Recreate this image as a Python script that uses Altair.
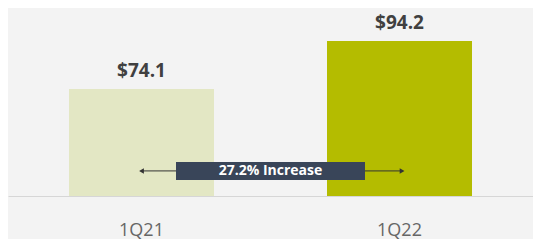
import altair as alt
import pandas as pd

quarters = ["1Q21", "1Q22"]
values = [74.1, 94.2]
labels = ["$74.1", "$94.2"]
bar_colors = ["#e3e7c4", "#b4bc00"]
change_label = "27.2% Increase"

base_val = 29.3
top_val = 108.0
arrow_y = 39.8
arrow_ends = [0.0, 1.01]
head_shapes = ["triangle-left", "triangle-right"]
box_pos = 0.5

df = pd.DataFrame({"q": quarters, "v": values, "lab": labels, "b0": [base_val, base_val]})
arrow_df = pd.DataFrame({"ax": arrow_ends, "ay": [arrow_y, arrow_y], "s": head_shapes})
box_df = pd.DataFrame({"bx": [box_pos], "by": [arrow_y], "t": [change_label]})

xs = alt.Scale(domain=quarters, paddingInner=0.438, paddingOuter=0.2364)
ys = alt.Scale(domain=[base_val, top_val], nice=False, zero=False)
xq = alt.Scale(domain=[-0.5174, 1.5174], nice=False, zero=False)

base = alt.Chart(df)

bars = base.mark_bar().encode(
    x=alt.X("q:N", scale=xs, title=None,
            axis=alt.Axis(labelAngle=0, domain=True, domainColor="#d6d6d6", domainWidth=1,
                          ticks=False, labelPadding=25,
                          labelFontSize=18, labelColor="#666666", labelFont="Open Sans")),
    y=alt.Y("v:Q", scale=ys, axis=None),
    y2="b0:Q",
    color=alt.Color("q:N", scale=alt.Scale(domain=quarters, range=bar_colors), legend=None),
)

vlabels = base.mark_text(dy=-18, baseline="middle", font="Open Sans", fontWeight="bold",
                         fontSize=19, color="#404040").encode(
    x=alt.X("q:N", scale=xs), y=alt.Y("v:Q", scale=ys), text="lab:N")

arrow_line = alt.Chart(arrow_df).mark_line(color="#333333", strokeWidth=1).encode(
    x=alt.X("ax:Q", scale=xq, axis=None), y=alt.Y("ay:Q", scale=ys))

heads = alt.Chart(arrow_df).mark_point(filled=True, size=30, color="#333333", opacity=1).encode(
    x=alt.X("ax:Q", scale=xq, axis=None), y=alt.Y("ay:Q", scale=ys),
    shape=alt.Shape("s:N", scale=alt.Scale(domain=head_shapes, range=head_shapes), legend=None))

box = alt.Chart(box_df).mark_point(
    filled=True, size=35721, color="#394559", opacity=1,
    shape="M-1,-0.0952L1,-0.0952L1,0.0952L-1,0.0952Z").encode(
    x=alt.X("bx:Q", scale=xq, axis=None), y=alt.Y("by:Q", scale=ys))

box_text = alt.Chart(box_df).mark_text(
    color="white", font="Open Sans", fontWeight="bold", fontSize=14, baseline="middle").encode(
    x=alt.X("bx:Q", scale=xq, axis=None), y=alt.Y("by:Q", scale=ys), text="t:N")

annot = alt.layer(arrow_line, heads, box, box_text)

chart = alt.layer(alt.layer(bars, vlabels), annot).resolve_scale(x="independent").properties(
    width=525, height=188, padding=0
).configure(background="#f3f3f3").configure_view(strokeWidth=0)

chart.save("out.html", embed_options={"renderer": "svg", "actions": False})
